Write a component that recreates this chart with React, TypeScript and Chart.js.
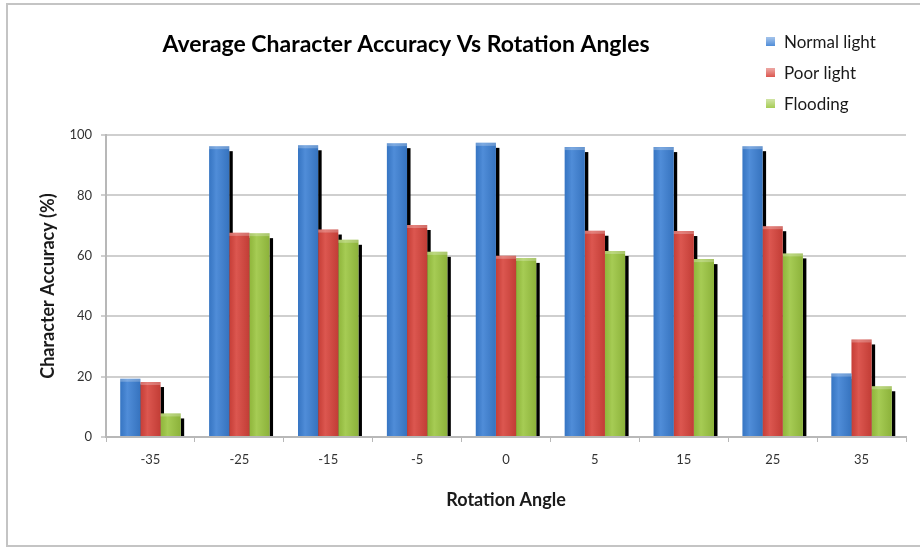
import React, { useEffect, useRef } from 'react';
import { Chart, registerables } from 'chart.js';
Chart.register(...registerables);

const categories = ['-35', '-25', '-15', '-5', '0', '5', '15', '25', '35'];
const normalLight = [19.3, 96.3, 96.6, 97.3, 97.4, 96, 96, 96.3, 21];
const poorLight = [18.2, 67.6, 68.7, 70.2, 60, 68.3, 68.2, 69.8, 32.3];
const flooding = [7.8, 67.5, 65.3, 61.3, 59.3, 61.6, 58.9, 60.8, 16.8];
const seriesNames = ['Normal light', 'Poor light', 'Flooding'];
const seriesColors = ['#3c80d4', '#d8443c', '#9cc641'];
const chartTitle = 'Average Character Accuracy Vs Rotation Angles';
const yTitle = 'Character Accuracy (%)';
const xTitle = 'Rotation Angle';
const FONT = 'Lato, "Open Sans", sans-serif';

const decorPlugin = {
  id: 'decor',
  beforeDraw(chart: any) {
    const ctx = chart.ctx;
    ctx.save();
    ctx.fillStyle = '#ffffff';
    ctx.fillRect(0, 0, chart.width, chart.height);
    ctx.strokeStyle = '#c4c4c4';
    ctx.lineWidth = 2;
    ctx.strokeRect(7, 4, chart.width + 20, chart.height - 5);
    ctx.restore();
  },
  beforeDatasetsDraw(chart: any) {
    const ctx = chart.ctx;
    ctx.save();
    ctx.fillStyle = '#000000';
    chart.data.datasets.forEach((_: any, di: number) => {
      const meta = chart.getDatasetMeta(di);
      meta.data.forEach((bar: any) => {
        const p = bar.getProps(['x', 'y', 'width', 'base'], true);
        const right = p.x + p.width / 2;
        ctx.fillRect(right, p.y + 5, 3.5, p.base - p.y - 5);
      });
    });
    ctx.restore();
  },
  afterDatasetsDraw(chart: any) {
    const ctx = chart.ctx;
    ctx.save();
    chart.data.datasets.forEach((_: any, di: number) => {
      const meta = chart.getDatasetMeta(di);
      meta.data.forEach((bar: any) => {
        const p = bar.getProps(['x', 'y', 'width', 'base'], true);
        const left = p.x - p.width / 2;
        const g = ctx.createLinearGradient(left, 0, left + p.width, 0);
        g.addColorStop(0, 'rgba(0,0,0,0.08)');
        g.addColorStop(0.35, 'rgba(255,255,255,0.10)');
        g.addColorStop(1, 'rgba(0,0,0,0.10)');
        ctx.fillStyle = g;
        ctx.fillRect(left, p.y, p.width, p.base - p.y);
        ctx.fillStyle = 'rgba(255,255,255,0.25)';
        ctx.fillRect(left, p.y, p.width, 3);
      });
    });
    ctx.restore();
  },
  afterDraw(chart: any) {
    const ctx = chart.ctx;
    ctx.save();
    ctx.fillStyle = '#000000';
    ctx.font = `bold 23px ${FONT}`;
    ctx.textAlign = 'center';
    ctx.textBaseline = 'middle';
    ctx.fillText(chartTitle, 406, 45);
    ctx.font = `17px ${FONT}`;
    ctx.textAlign = 'left';
    seriesNames.forEach((name, i) => {
      const cy = 43 + i * 31;
      const g = ctx.createLinearGradient(0, cy - 5, 0, cy + 5);
      g.addColorStop(0, 'rgba(255,255,255,0.5)');
      g.addColorStop(1, 'rgba(255,255,255,0)');
      ctx.fillStyle = seriesColors[i];
      ctx.fillRect(766, cy - 6, 9, 9);
      ctx.fillStyle = g;
      ctx.fillRect(766, cy - 6, 9, 9);
      ctx.fillStyle = '#1a1a1a';
      ctx.fillText(name, 784, cy);
    });
    ctx.restore();
  },
};

export default function App() {
  const ref = useRef<HTMLCanvasElement | null>(null);
  useEffect(() => {
    document.body.style.margin = '0';
    if (!ref.current) return;
    const chart = new Chart(ref.current, {
      type: 'bar',
      data: {
        labels: categories,
        datasets: [
          { label: seriesNames[0], data: normalLight, backgroundColor: seriesColors[0] },
          { label: seriesNames[1], data: poorLight, backgroundColor: seriesColors[1] },
          { label: seriesNames[2], data: flooding, backgroundColor: seriesColors[2] },
        ],
      },
      options: {
        animation: false,
        responsive: false,
        maintainAspectRatio: false,
        layout: { padding: { top: 135, right: 14, left: 0, bottom: 0 } },
        datasets: { bar: { categoryPercentage: 0.68, barPercentage: 1 } },
        plugins: { legend: { display: false }, title: { display: false }, tooltip: { enabled: false } },
        scales: {
          x: {
            offset: true,
            grid: { display: true, drawOnChartArea: false, tickLength: 5, color: '#b8b8b8', lineWidth: 1 },
            border: { color: '#b8b8b8', width: 2 },
            ticks: { color: '#333333', padding: 10, font: { family: FONT, size: 13 } },
            title: { display: true, text: xTitle, color: '#1a1a1a', font: { family: FONT, size: 18, weight: 'bold' }, padding: { top: 0, bottom: 36 } },
            afterFit: (s: any) => { s.height = 110; },
          },
          y: {
            min: 0,
            max: 100,
            ticks: { stepSize: 20, color: '#333333', padding: 9, font: { family: FONT, size: 13 } },
            grid: { color: '#cfcfcf', lineWidth: 2, tickLength: 5 },
            border: { color: '#b8b8b8', width: 2 },
            title: { display: true, text: yTitle, color: '#1a1a1a', font: { family: FONT, size: 18, weight: 'bold' }, padding: { top: 37, bottom: 0 } },
            afterFit: (s: any) => { s.width = 106; },
          },
        },
      },
      plugins: [decorPlugin],
    });
    return () => chart.destroy();
  }, []);
  return (
    <div style={{ width: 920, height: 547 }}>
      <canvas ref={ref} width={920} height={547} style={{ display: 'block' }} />
    </div>
  );
}
